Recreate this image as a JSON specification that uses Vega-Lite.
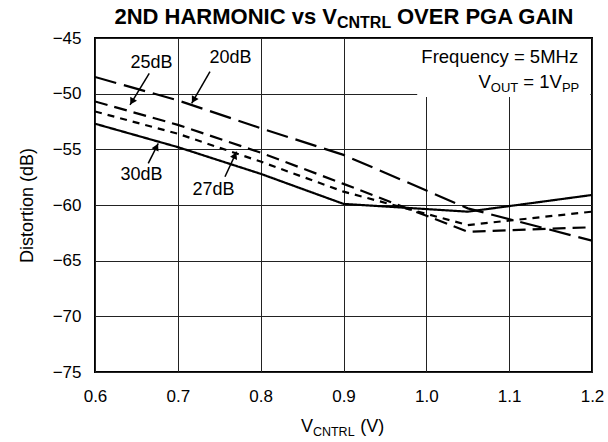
{
  "$schema": "https://vega.github.io/schema/vega-lite/v6.json",
  "width": 497,
  "height": 334,
  "autosize": {"type": "none"},
  "padding": {"left": 95, "top": 38, "right": 16, "bottom": 70},
  "background": "white",
  "config": {
    "font": "Liberation Sans",
    "view": {"stroke": "black", "strokeWidth": 2},
    "axis": {
      "grid": true, "gridColor": "#222", "gridWidth": 1, "domain": false, "ticks": false,
      "labelFlush": false, "labelOverlap": false,
      "labelFontSize": 17, "labelColor": "black", "titleFontSize": 18, "titleColor": "black",
      "titleFontWeight": "normal"
    }
  },
  "datasets": {
    "curves": [
      {"gain": "20dB", "v": 0.6, "db": -48.5}, {"gain": "20dB", "v": 0.7, "db": -50.6}, {"gain": "20dB", "v": 0.8, "db": -53.1}, {"gain": "20dB", "v": 0.9, "db": -55.5}, {"gain": "20dB", "v": 1.05, "db": -60.3}, {"gain": "20dB", "v": 1.2, "db": -63.2},
      {"gain": "25dB", "v": 0.6, "db": -50.7}, {"gain": "25dB", "v": 0.7, "db": -52.8}, {"gain": "25dB", "v": 0.8, "db": -55.3}, {"gain": "25dB", "v": 0.9, "db": -58.1}, {"gain": "25dB", "v": 1.05, "db": -62.4}, {"gain": "25dB", "v": 1.2, "db": -62.0},
      {"gain": "27dB", "v": 0.6, "db": -51.6}, {"gain": "27dB", "v": 0.7, "db": -53.6}, {"gain": "27dB", "v": 0.8, "db": -56.1}, {"gain": "27dB", "v": 0.9, "db": -58.8}, {"gain": "27dB", "v": 1.05, "db": -61.8}, {"gain": "27dB", "v": 1.2, "db": -60.6},
      {"gain": "30dB", "v": 0.6, "db": -52.7}, {"gain": "30dB", "v": 0.7, "db": -54.8}, {"gain": "30dB", "v": 0.8, "db": -57.2}, {"gain": "30dB", "v": 0.9, "db": -59.9}, {"gain": "30dB", "v": 1.05, "db": -60.6}, {"gain": "30dB", "v": 1.2, "db": -59.1}
    ],
    "arrows": [
      {"gain": "25dB", "v1": 0.6655, "d1": -48.17, "v2": 0.6423, "d2": -51.0, "hv": 0.6446, "hd": -50.72},
      {"gain": "20dB", "v1": 0.7388, "d1": -48.03, "v2": 0.7167, "d2": -50.87, "hv": 0.719, "hd": -50.57},
      {"gain": "30dB", "v1": 0.6643, "d1": -56.26, "v2": 0.6764, "d2": -54.46, "hv": 0.6743, "hd": -54.78},
      {"gain": "27dB", "v1": 0.7569, "d1": -57.46, "v2": 0.771, "d2": -55.21, "hv": 0.769, "hd": -55.54}
    ],
    "gainLabels": [
      {"text": "25dB", "v": 0.6682, "db": -47.69},
      {"text": "20dB", "v": 0.7636, "db": -47.27},
      {"text": "30dB", "v": 0.6561, "db": -57.75},
      {"text": "27dB", "v": 0.743, "db": -59.1}
    ],
    "mainTexts": [
      {"text": "2ND HARMONIC vs V", "v": 0.8921, "db": -43.74, "role": "titleMain"},
      {"text": "OVER PGA GAIN", "v": 0.9645, "db": -43.74, "role": "titleTail"},
      {"text": "CNTRL", "v": 0.8921, "db": -44.13, "role": "titleSub"},
      {"text": "Frequency = 5MHz", "v": 1.1833, "db": -47.25, "role": "noteRight"},
      {"text": "V", "v": 1.063, "db": -49.49, "role": "note"},
      {"text": "= 1V", "v": 1.1171, "db": -49.49, "role": "note"},
      {"text": "OUT", "v": 1.0778, "db": -49.85, "role": "noteSub"},
      {"text": "PP", "v": 1.1637, "db": -49.85, "role": "noteSub"},
      {"text": "V", "v": 0.8631, "db": -80.39, "role": "axisRight"},
      {"text": "CNTRL", "v": 0.8631, "db": -80.75, "role": "axisSub"},
      {"text": "(V)", "v": 0.9203, "db": -80.39, "role": "axisLeft"}
    ]
  },
  "encoding": {
    "x": {"type": "quantitative", "scale": {"domain": [0.6, 1.2], "nice": false, "zero": false}},
    "y": {"type": "quantitative", "scale": {"domain": [-75, -45], "nice": false, "zero": false}}
  },
  "layer": [
    {
      "data": {"name": "curves"},
      "mark": {"type": "line", "color": "black", "strokeWidth": 2.2, "strokeCap": "butt", "clip": true},
      "encoding": {
        "x": {"field": "v", "type": "quantitative", "axis": {"values": [0.6, 0.7, 0.8, 0.9, 1.0, 1.1, 1.2], "format": ".1f", "labelPadding": 16, "title": null}},
        "y": {"field": "db", "type": "quantitative", "axis": {"values": [-75, -70, -65, -60, -55, -50, -45], "labelPadding": 14, "title": "Distortion (dB)", "titlePadding": 16}},
        "strokeDash": {"field": "gain", "type": "nominal", "scale": {"domain": ["20dB", "25dB", "27dB", "30dB"], "range": [[22, 8], [13, 7], [7, 6], [1, 0]]}, "legend": null}
      }
    },
    {
      "data": {"values": [{}]},
      "mark": {"type": "rect", "fill": "white"},
      "encoding": {
        "x": {"datum": 0.989, "type": "quantitative"},
        "x2": {"datum": 1.198},
        "y": {"datum": -45.1, "type": "quantitative"},
        "y2": {"datum": -50.3}
      }
    },
    {
      "data": {"name": "arrows"},
      "mark": {"type": "rule", "color": "black", "strokeWidth": 1.5},
      "encoding": {
        "x": {"field": "v1", "type": "quantitative"},
        "y": {"field": "d1", "type": "quantitative"},
        "x2": {"field": "v2"},
        "y2": {"field": "d2"}
      }
    },
    {
      "data": {"name": "arrows"},
      "transform": [{"filter": "datum.gain === '25dB' || datum.gain === '20dB'"}],
      "mark": {"type": "point", "shape": "triangle-up", "filled": true, "color": "black", "opacity": 1, "size": 60, "angle": 210},
      "encoding": {"x": {"field": "hv", "type": "quantitative"}, "y": {"field": "hd", "type": "quantitative"}}
    },
    {
      "data": {"name": "arrows"},
      "transform": [{"filter": "datum.gain === '30dB' || datum.gain === '27dB'"}],
      "mark": {"type": "point", "shape": "triangle-up", "filled": true, "color": "black", "opacity": 1, "size": 60, "angle": 26},
      "encoding": {"x": {"field": "hv", "type": "quantitative"}, "y": {"field": "hd", "type": "quantitative"}}
    },
    {
      "data": {"name": "gainLabels"},
      "mark": {"type": "text", "fontSize": 18, "align": "center", "baseline": "alphabetic", "color": "black"},
      "encoding": {"x": {"field": "v", "type": "quantitative"}, "y": {"field": "db", "type": "quantitative"}, "text": {"field": "text"}}
    },
    {
      "data": {"name": "mainTexts"},
      "transform": [{"filter": "datum.role === 'titleMain'"}],
      "mark": {"type": "text", "fontSize": 22, "fontWeight": "bold", "align": "right", "baseline": "alphabetic", "color": "black"},
      "encoding": {"x": {"field": "v", "type": "quantitative"}, "y": {"field": "db", "type": "quantitative"}, "text": {"field": "text"}}
    },
    {
      "data": {"name": "mainTexts"},
      "transform": [{"filter": "datum.role === 'titleTail'"}],
      "mark": {"type": "text", "fontSize": 22, "fontWeight": "bold", "align": "left", "baseline": "alphabetic", "color": "black"},
      "encoding": {"x": {"field": "v", "type": "quantitative"}, "y": {"field": "db", "type": "quantitative"}, "text": {"field": "text"}}
    },
    {
      "data": {"name": "mainTexts"},
      "transform": [{"filter": "datum.role === 'titleSub'"}],
      "mark": {"type": "text", "fontSize": 16, "fontWeight": "bold", "align": "left", "baseline": "alphabetic", "color": "black"},
      "encoding": {"x": {"field": "v", "type": "quantitative"}, "y": {"field": "db", "type": "quantitative"}, "text": {"field": "text"}}
    },
    {
      "data": {"name": "mainTexts"},
      "transform": [{"filter": "datum.role === 'noteRight'"}],
      "mark": {"type": "text", "fontSize": 18.5, "align": "right", "baseline": "alphabetic", "color": "black"},
      "encoding": {"x": {"field": "v", "type": "quantitative"}, "y": {"field": "db", "type": "quantitative"}, "text": {"field": "text"}}
    },
    {
      "data": {"name": "mainTexts"},
      "transform": [{"filter": "datum.role === 'note'"}],
      "mark": {"type": "text", "fontSize": 18.5, "align": "left", "baseline": "alphabetic", "color": "black"},
      "encoding": {"x": {"field": "v", "type": "quantitative"}, "y": {"field": "db", "type": "quantitative"}, "text": {"field": "text"}}
    },
    {
      "data": {"name": "mainTexts"},
      "transform": [{"filter": "datum.role === 'noteSub'"}],
      "mark": {"type": "text", "fontSize": 13, "align": "left", "baseline": "alphabetic", "color": "black"},
      "encoding": {"x": {"field": "v", "type": "quantitative"}, "y": {"field": "db", "type": "quantitative"}, "text": {"field": "text"}}
    },
    {
      "data": {"name": "mainTexts"},
      "transform": [{"filter": "datum.role === 'axisRight'"}],
      "mark": {"type": "text", "fontSize": 18, "align": "right", "baseline": "alphabetic", "color": "black"},
      "encoding": {"x": {"field": "v", "type": "quantitative"}, "y": {"field": "db", "type": "quantitative"}, "text": {"field": "text"}}
    },
    {
      "data": {"name": "mainTexts"},
      "transform": [{"filter": "datum.role === 'axisSub'"}],
      "mark": {"type": "text", "fontSize": 12.5, "align": "left", "baseline": "alphabetic", "color": "black"},
      "encoding": {"x": {"field": "v", "type": "quantitative"}, "y": {"field": "db", "type": "quantitative"}, "text": {"field": "text"}}
    },
    {
      "data": {"name": "mainTexts"},
      "transform": [{"filter": "datum.role === 'axisLeft'"}],
      "mark": {"type": "text", "fontSize": 18, "align": "left", "baseline": "alphabetic", "color": "black"},
      "encoding": {"x": {"field": "v", "type": "quantitative"}, "y": {"field": "db", "type": "quantitative"}, "text": {"field": "text"}}
    }
  ]
}
